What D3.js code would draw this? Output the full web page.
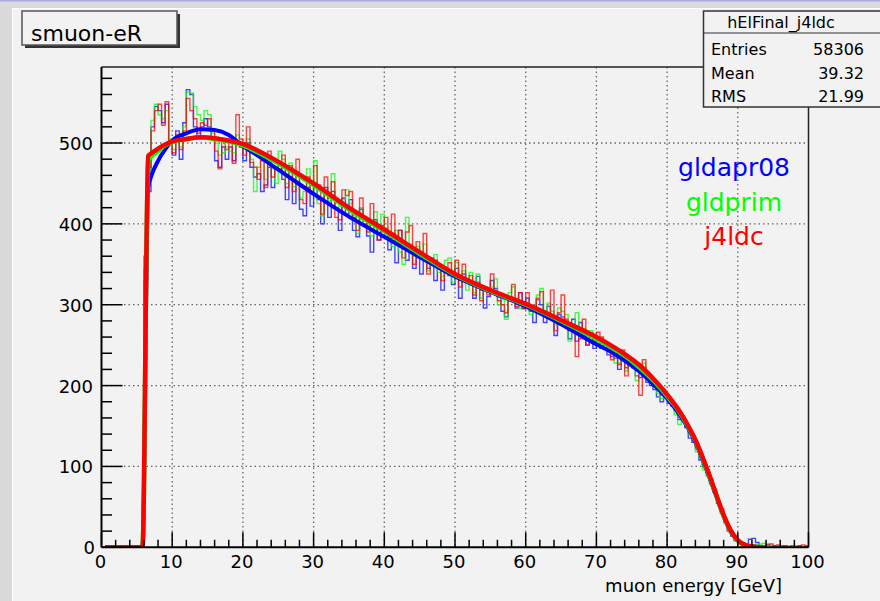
<!DOCTYPE html>
<html>
<head>
<meta charset="utf-8">
<script src="https://cdn.jsdelivr.net/npm/d3@7"></script>
<style>
  body { margin: 0; background: #f2f2f2; }
  svg { display: block; font-family: "DejaVu Sans", sans-serif; }
</style>
</head>
<body>
<div class="chart"></div>
<script>
const width = 880
const height = 601

// histogram contents, 200 bins of 0.5 GeV from 0 to 100
const binWidth = 0.5
const histBlue = [
  0,0,0,0,0,0,0,0,0,0,0,0,
  330,440,
  520,545,540,525,548,500,
  485,515,480,525,566,560,520,505,520,530,
  520,505,478,470,495,480,495,478,500,495,
  478,500,470,458,462,440,448,470,445,468,
  475,455,430,458,425,452,418,410,445,422,
  448,430,400,445,408,440,420,392,432,412,
  430,392,384,418,400,385,365,405,380,395,
  390,368,388,352,392,370,355,365,345,358,
  338,358,345,352,330,345,318,342,336,325,
  345,308,338,330,325,308,335,318,296,310,
  330,320,310,292,285,310,305,296,315,295,
  308,292,278,306,300,278,298,282,262,288,
  285,275,258,282,255,278,262,250,262,246,
  256,246,254,238,236,234,220,232,222,230,
  224,212,210,222,204,200,195,186,180,190,
  178,175,170,158,160,148,135,130,122,108,
  100,92,80,68,55,45,32,24,14,9,
  5,3,4,10,11,6,2,1,3,1,
  2,1,0,2,1,0,1,2,0,1
]
const histGreen = [
  0,0,0,0,0,0,0,0,0,0,0,0,
  345,450,
  528,548,535,530,540,505,
  492,505,495,520,563,562,545,535,528,540,
  535,512,500,485,488,495,490,488,510,500,
  500,505,480,440,470,488,455,482,468,450,
  490,480,450,475,446,462,432,440,468,440,
  478,425,410,440,428,462,420,422,430,442,
  425,410,388,420,400,398,385,415,395,412,
  395,385,372,392,365,350,408,375,360,372,
  365,375,342,350,362,340,335,355,358,328,
  352,335,342,318,340,315,338,308,322,316,
  322,332,300,306,282,315,322,308,296,302,
  302,288,292,312,320,288,302,292,275,296,
  292,288,255,275,290,262,270,258,268,255,
  250,258,246,248,244,228,228,238,218,226,
  228,206,218,228,212,206,200,190,184,194,
  182,178,164,152,156,152,140,136,118,112,
  96,88,78,70,58,42,30,22,16,10,
  6,2,2,3,2,3,4,5,4,2,
  1,2,1,1,0,1,0,1,1,0
]
const histRed = [
  0,0,0,0,0,0,0,0,0,0,0,0,
  360,470,
  515,540,548,522,551,498,
  488,510,492,515,555,540,530,512,525,522,
  530,515,490,468,505,492,500,475,535,505,
  485,520,476,470,455,478,445,490,458,470,
  468,485,445,472,440,480,430,425,458,438,
  472,448,412,458,432,452,408,405,442,435,
  440,408,392,432,405,390,425,402,380,398,
  408,380,412,375,392,358,390,398,350,378,
  362,388,338,358,355,348,330,346,352,340,
  355,322,350,332,336,312,328,305,318,312,
  338,315,305,300,290,305,325,298,315,296,
  315,295,298,308,316,290,285,318,268,290,
  312,282,268,272,236,258,282,250,265,255,
  266,260,250,244,232,240,226,244,212,234,
  222,220,188,232,215,208,200,196,188,188,
  184,180,174,165,162,154,142,138,125,115,
  102,95,84,72,54,48,34,20,15,8,
  4,4,2,2,3,1,2,2,3,4,
  2,3,2,0,1,2,1,0,3,2
]

// fitted curves, sampled at these energies
const fitX = [0.5, 5.8, 6.6, 7, 8, 9, 10, 12, 14, 16, 18, 20, 22, 25, 28, 30, 35, 40, 45, 50,
  55, 60, 65, 70, 72, 74, 76, 78, 80, 82, 83, 84, 85, 86, 87, 88, 89, 90, 91, 92, 93.5]
const fitBlue = [0, 0, 445, 458, 478, 492, 503, 512, 517, 516, 510, 496, 485, 467, 449, 437, 409, 384, 359, 335,
  316, 298, 276, 251, 242, 231, 218, 202, 184, 161, 147, 130, 109, 86, 62, 38, 19, 8, 3, 1, 0]
const fitGreen = [0, 0, 478, 483, 490, 497, 501, 505, 507, 505, 502, 497, 489, 475, 459, 448, 418, 391, 363, 337,
  317, 300, 280, 258, 248, 237, 223, 207, 187, 164, 149, 132, 111, 88, 63, 39, 20, 8, 3, 1, 0]
const fitRed = [0, 0, 484, 487, 493, 498, 502, 505, 507, 506, 503, 499, 491, 477, 461, 450, 420, 393, 365, 338,
  318, 301, 281, 260, 250, 239, 226, 209, 189, 165, 150, 133, 112, 89, 64, 40, 21, 9, 3, 1, 0]

const seriesNames = ["gldapr08", "gldprim", "j4ldc"]
const seriesColors = ["#0000ff", "#00ff00", "#ff0000"]

const statsTitle = "hElFinal_j4ldc"
const statsRows = [["Entries", "58306"], ["Mean", "39.32"], ["RMS", "21.99"]]

const xTicks = d3.range(0, 101, 10)
const xMinor = d3.range(0, 101, 2)
const yTicks = d3.range(0, 501, 100)
const yMinor = d3.range(0, 581, 20)

const plot = {left: 101.5, right: 808.5, top: 67, bottom: 547.3}

const x = d3.scaleLinear().domain([0, 100]).range([plot.left, plot.right])
const y = d3.scaleLinear().domain([0, 594]).range([plot.bottom, plot.top])

const svg = d3.create("svg")
  .attr("width", width)
  .attr("height", height)
  .attr("viewBox", [0, 0, width, height])

// canvas frame
svg.append("rect").attr("width", width).attr("height", height).attr("fill", "#dadada")
svg.append("rect").attr("x", 0).attr("y", 0).attr("width", width).attr("height", 1.5).attr("fill", "#a9a9e6")
svg.append("rect").attr("x", 12).attr("y", 8).attr("width", width).attr("height", height)
  .attr("fill", "#f2f2f2")
svg.append("path").attr("d", `M12.5,${height}V8.5H${width}`).attr("fill", "none").attr("stroke", "#ffffff")

svg.append("defs").append("clipPath").attr("id", "clip")
  .append("rect")
  .attr("x", plot.left).attr("y", plot.top)
  .attr("width", plot.right - plot.left).attr("height", plot.bottom - plot.top)

// grid
const grid = svg.append("g")
  .attr("stroke", "#666")
  .attr("stroke-width", 1.3)
  .attr("stroke-dasharray", "1.5,3")
grid.selectAll(".gx")
  .data(xTicks.filter(d => d > 0 && d < 100))
  .join("line")
  .attr("x1", d => x(d)).attr("x2", d => x(d))
  .attr("y1", plot.top).attr("y2", plot.bottom)
grid.selectAll(".gy")
  .data(yTicks.filter(d => d > 0))
  .join("line")
  .attr("x1", plot.left).attr("x2", plot.right)
  .attr("y1", d => y(d)).attr("y2", d => y(d))

// histograms
const stepLine = d3.line()
  .x(d => x(d[0]))
  .y(d => y(d[1]))
  .curve(d3.curveStepAfter)

const hists = [histBlue, histGreen, histRed]
hists.forEach((h, k) => {
  const pts = h.map((v, i) => [i * binWidth, v])
  pts.push([h.length * binWidth, h[h.length - 1]])
  svg.append("path")
    .attr("clip-path", "url(#clip)")
    .attr("d", stepLine(pts))
    .attr("fill", "none")
    .attr("stroke", seriesColors[k])
    .attr("stroke-width", 1.4)
    .attr("stroke-opacity", 0.72)
})

// fits
const fitLine = d3.line()
  .x(d => x(d[0]))
  .y(d => y(d[1]))
  .curve(d3.curveMonotoneX)

const fits = [fitBlue, fitGreen, fitRed]
fits.forEach((f, k) => {
  svg.append("path")
    .attr("clip-path", "url(#clip)")
    .attr("d", fitLine(f.map((v, i) => [fitX[i], v])))
    .attr("fill", "none")
    .attr("stroke", seriesColors[k])
    .attr("stroke-width", k == 0 ? 4 : 4.5)
    .attr("stroke-linejoin", "round")
})

// frame top and right
svg.append("path")
  .attr("d", `M${plot.left},${plot.top}H${plot.right}V${plot.bottom}`)
  .attr("fill", "none")
  .attr("stroke", "#222")
  .attr("stroke-width", 1.5)

// x axis
const xAxis = svg.append("g").attr("stroke", "#000")
xAxis.append("line")
  .attr("x1", plot.left).attr("x2", plot.right)
  .attr("y1", plot.bottom).attr("y2", plot.bottom)
  .attr("stroke-width", 2)
xAxis.selectAll(".minor")
  .data(xMinor)
  .join("line")
  .attr("x1", d => x(d)).attr("x2", d => x(d))
  .attr("y1", plot.bottom).attr("y2", d => plot.bottom - (d % 10 == 0 ? 15 : 7.5))
  .attr("stroke-width", 1.5)
svg.append("g")
  .style("font-size", "18px")
  .attr("text-anchor", "middle")
  .selectAll("text")
  .data(xTicks)
  .join("text")
  .attr("x", d => x(d) - 1)
  .attr("y", plot.bottom + 21)
  .text(d => d)

svg.append("text")
  .style("font-size", "18px")
  .attr("text-anchor", "end")
  .attr("x", 782)
  .attr("y", 592)
  .text("muon energy [GeV]")

// y axis
const yAxis = svg.append("g").attr("stroke", "#000")
yAxis.append("line")
  .attr("x1", plot.left).attr("x2", plot.left)
  .attr("y1", plot.top).attr("y2", plot.bottom)
  .attr("stroke-width", 2)
yAxis.selectAll(".minor")
  .data(yMinor)
  .join("line")
  .attr("y1", d => y(d)).attr("y2", d => y(d))
  .attr("x1", plot.left).attr("x2", d => plot.left + (d % 100 == 0 ? 21 : 10.5))
  .attr("stroke-width", 1.5)
svg.append("g")
  .style("font-size", "18px")
  .attr("text-anchor", "end")
  .selectAll("text")
  .data(yTicks)
  .join("text")
  .attr("x", d => d == 0 ? 95 : 93)
  .attr("y", d => y(d) + 7)
  .text(d => d)

// legend text
svg.append("g")
  .style("font-size", "25px")
  .attr("text-anchor", "middle")
  .selectAll("text")
  .data(seriesNames)
  .join("text")
  .attr("x", 734)
  .attr("y", (d, i) => 176 + i * 34.5)
  .attr("fill", (d, i) => seriesColors[i])
  .text(d => d)

// title box
svg.append("rect")
  .attr("x", 25).attr("y", 14).attr("width", 155).attr("height", 34)
  .attr("fill", "#333")
svg.append("rect")
  .attr("x", 22).attr("y", 11).attr("width", 155).attr("height", 34)
  .attr("fill", "#f2f2f2")
  .attr("stroke", "#555")
  .attr("stroke-width", 1.5)
svg.append("text")
  .style("font-size", "22px")
  .attr("x", 31)
  .attr("y", 41)
  .text("smuon-eR")

// stats box
const stats = svg.append("g")
stats.append("rect")
  .attr("x", 703.5).attr("y", 11).attr("width", 200).attr("height", 96)
  .attr("fill", "#f2f2f2")
  .attr("stroke", "#333")
  .attr("stroke-width", 1.5)
stats.append("line")
  .attr("x1", 703.5).attr("x2", width)
  .attr("y1", 33).attr("y2", 33)
  .attr("stroke", "#333")
  .attr("stroke-width", 1.2)
stats.append("text")
  .style("font-size", "16px")
  .attr("text-anchor", "middle")
  .attr("x", 781)
  .attr("y", 28)
  .text(statsTitle)
statsRows.forEach(([k, v], i) => {
  stats.append("text")
    .style("font-size", "16px")
    .attr("x", 711)
    .attr("y", 55 + i * 23.5)
    .text(k)
  stats.append("text")
    .style("font-size", "16px")
    .attr("text-anchor", "end")
    .attr("x", 864)
    .attr("y", 55 + i * 23.5)
    .text(v)
})

document.querySelector(".chart").append(svg.node())
</script>
</body>
</html>
